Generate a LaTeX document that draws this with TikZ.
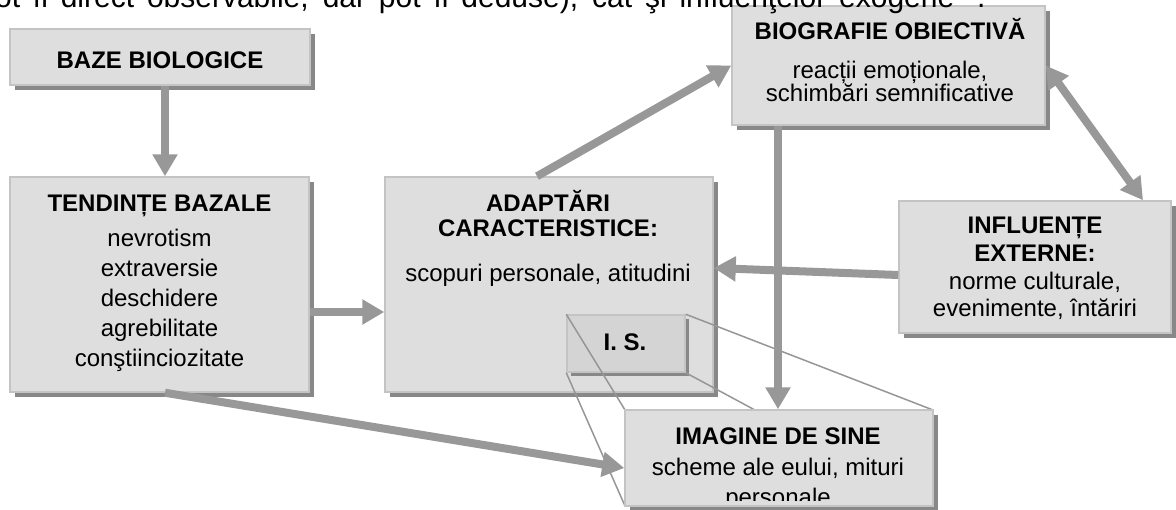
\documentclass[tikz,border=0pt]{standalone}
\usepackage{fontspec}
\setmainfont{Liberation Sans}
\usetikzlibrary{arrows.meta,shadows}
\definecolor{boxfill}{RGB}{222,222,222}
\definecolor{isfill}{RGB}{212,212,212}
\definecolor{boxdraw}{RGB}{196,196,196}
\definecolor{shadowc}{RGB}{136,136,136}
\definecolor{arrowc}{RGB}{152,152,152}
\definecolor{linec}{RGB}{150,150,150}
\begin{document}
\begin{tikzpicture}[x=0.5pt,y=-0.5pt,
  box/.style={draw=boxdraw, line width=0.75pt, fill=boxfill, inner sep=0pt,
    drop shadow={shadow xshift=2.5pt,shadow yshift=-2.5pt,fill=shadowc,opacity=1}},
  isbox/.style={draw=boxdraw, line width=0.75pt, fill=isfill, inner sep=0pt,
    drop shadow={shadow xshift=1.75pt,shadow yshift=-1.75pt,fill=shadowc,opacity=1}},
  txt/.style={inner sep=0pt, anchor=base, font=\fontsize{12}{15}\selectfont},
  ttl/.style={inner sep=0pt, anchor=base, font=\fontsize{12}{15}\selectfont\bfseries},
  arr/.style={line width=4pt, draw=arrowc, -{Triangle[length=11pt,width=12pt]}},
  darr/.style={line width=4pt, draw=arrowc, {Triangle[length=11pt,width=12pt]}-{Triangle[length=11pt,width=12pt]}},
  zoomline/.style={draw=linec, line width=0.75pt}
]
\useasboundingbox (0,0) rectangle (1176,509);
\clip (0,0) rectangle (1176,509);

% boxes
\node[box, minimum width=150pt, minimum height=28pt] (baze) at (160,57) {};
\node[box, minimum width=149.5pt, minimum height=107.5pt] (tend) at (159.5,284.5) {};
\node[box, minimum width=164pt, minimum height=107.5pt] (adapt) at (549,284.5) {};
\node[isbox, minimum width=59pt, minimum height=28.5pt] (is) at (626,343.5) {};
\node[box, minimum width=156.5pt, minimum height=59.5pt] (bio) at (888.5,65.5) {};
\node[box, minimum width=136pt, minimum height=66pt] (infl) at (1035,267) {};

% clipped line of running text
\node[anchor=base west, inner sep=0pt, font=\fontsize{15}{18}\selectfont] (toptext) at (-22,7)
  {\makebox[503.5pt][s]{pot fi direct observabile, dar pot fi deduse), cât şi influenţelor exogene”\textsuperscript{4}.}};

% zoom lines from I. S. to the self-image box
\draw[zoomline] (is.north west) -- (625,410) coordinate (imnw);
\draw[zoomline] (is.north east) -- (933,410) coordinate (imne);
\draw[zoomline] (is.south west) -- (625,506) coordinate (imsw);
\draw[zoomline] (is.south east) -- (933,506) coordinate (imse);

\node[box, minimum width=154pt, minimum height=48pt] (imag) at (779,458) {};

% texts
\node[ttl] (t1) at (160,68.3) {BAZE BIOLOGICE};

\node[ttl] (t2) at (159.5,211) {TENDINȚE BAZALE};
\node[txt] (t3) at (159.5,246.5) {nevrotism};
\node[txt] (t4) at (159.5,276.5) {extraversie};
\node[txt] (t5) at (159.5,306.5) {deschidere};
\node[txt] (t6) at (159.5,336.5) {agrebilitate};
\node[txt] (t7) at (159.5,366.5) {conştiinciozitate};

\node[ttl] (t8) at (548,211.7) {ADAPTĂRI};
\node[ttl] (t9) at (548,236.7) {CARACTERISTICE:};
\node[txt] (t10) at (548,281.7) {scopuri personale, atitudini};
\node[ttl] (t11) at (625,350) {I. S.};

\node[ttl] (t12) at (890,39.3) {BIOGRAFIE OBIECTIVĂ};
\node[txt] (t13) at (890,78.3) {reacții emoționale,};
\node[txt] (t14) at (890,101) {schimbări semnificative};

\node[ttl] (t15) at (1035,233) {INFLUENȚE};
\node[ttl] (t16) at (1035,261.5) {EXTERNE:};
\node[txt] (t17) at (1035,289) {norme culturale,};
\node[txt] (t18) at (1035,316.5) {evenimente, întăriri};

\node[ttl] (t19) at (778,444) {IMAGINE DE SINE};
\node[txt] (t20) at (778,475) {scheme ale eului, mituri};
\begin{scope}
\clip (625,410) rectangle (933,500);
\node[txt] (t21) at (778,505) {personale};
\end{scope}

% arrows
\draw[arr] ([xshift=2.5pt]baze.south) -- ([xshift=2.75pt]tend.north);
\draw[arr] ([yshift=-13.75pt]tend.east) -- ([yshift=-13.75pt]adapt.west);
\draw[arr] ([xshift=-6pt]adapt.north) -- (bio.west);
\draw[darr] (bio.east) -- ([xshift=54pt]infl.north);
\draw[arr] ([yshift=-4pt]infl.west) -- ([yshift=8.25pt]adapt.east);
\draw[arr] ([xshift=-55.25pt]bio.south) -- ([xshift=-55.25pt]bio.south |- imag.north);
\draw[arr] ([xshift=2.75pt]tend.south) -- ([yshift=-5pt]imag.west);
\end{tikzpicture}
\end{document}
